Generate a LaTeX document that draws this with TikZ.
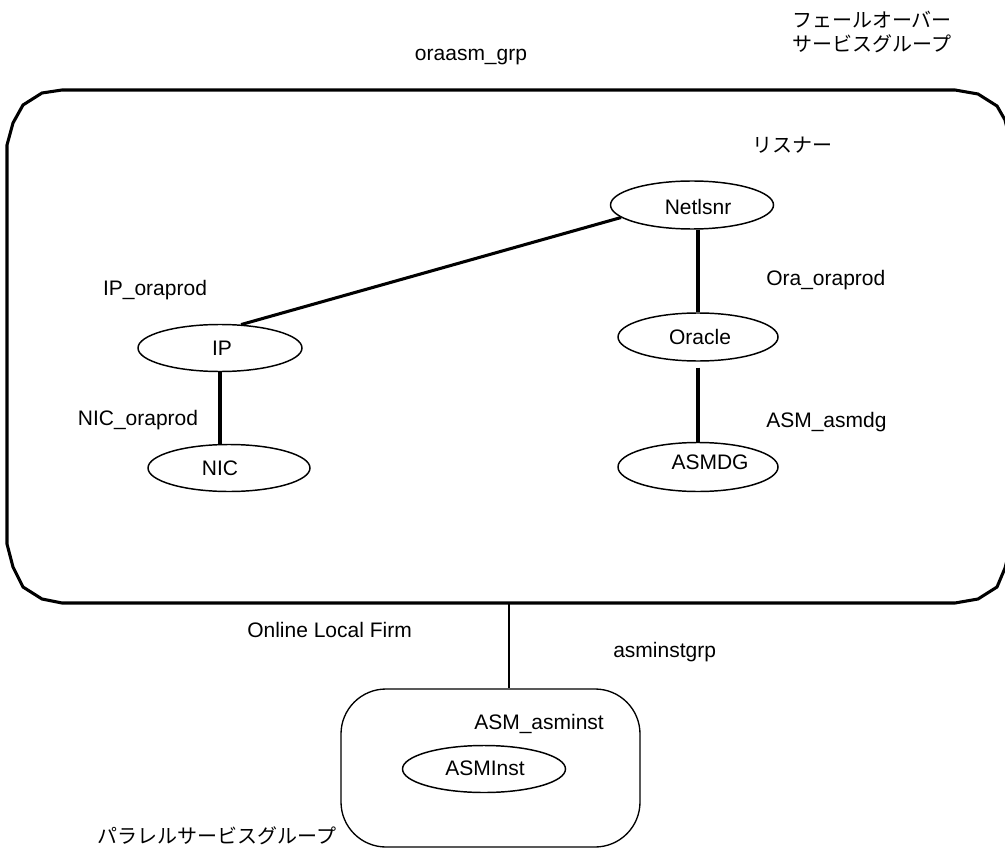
\documentclass[tikz,border=0pt]{standalone}
\usepackage{fontspec}
\setmainfont{Liberation Sans}
\newfontfamily\jp{Noto Sans CJK JP}
\usetikzlibrary{shapes.geometric}
\begin{document}
\begin{tikzpicture}[x=0.75pt,y=-0.75pt,
  lbl/.style={font=\fontsize{15.75}{18}\selectfont, inner sep=0pt},
  jlbl/.style={font=\jp\fontsize{15}{18}\selectfont, inner sep=0pt, align=center},
  res/.style={draw, ellipse, line width=1.1pt, inner sep=0pt},
  link/.style={line width=2.3pt},
  vlink/.style={line width=3pt},
  thinlink/.style={line width=1pt}]
\useasboundingbox (0,0) rectangle (1005,848);
\clip (0,0) rectangle (1005,848);
% failover group box
\draw[line width=2.3pt, line join=round] (62,90) -- (955,90) -- (978,94) -- (997,106) -- (1005,120) -- (1011,145) -- (1011,544) -- (1005,568) -- (997,587) -- (978,599) -- (955,603) -- (62,603) -- (42,599) -- (23,587) -- (13,567) -- (7,544) -- (7,145) -- (13,123) -- (23,105) -- (42,93) -- cycle;
\coordinate (bigbot) at (509,603);
% parallel group box
\node[draw, line width=1pt, rounded corners=33.75pt, minimum width=224.25pt, minimum height=118.5pt, inner sep=0pt] (asmgrp) at (490.5,768) {};
% resources
\node[res, minimum width=122.25pt, minimum height=36pt] (netlsnr) at (692,205) {};
\node[lbl] (netlsnrT) at (698,207) {Netlsnr};
\node[res, minimum width=120pt, minimum height=36pt] (oracle) at (698,337) {};
\node[lbl] (oracleT) at (700,337) {Oracle};
\node[res, minimum width=120pt, minimum height=36.75pt] (asmdg) at (698,467) {};
\node[lbl] (asmdgT) at (710,462) {ASMDG};
\node[res, minimum width=123pt, minimum height=35.25pt] (ip) at (220,348) {};
\node[lbl] (ipT) at (222,348) {IP};
\node[res, minimum width=121.5pt, minimum height=35.25pt] (nic) at (229,468) {};
\node[lbl] (nicT) at (220,468) {NIC};
\node[res, minimum width=122.25pt, minimum height=35.25pt] (asminst) at (484,769) {};
\node[lbl] (asminstT) at (485,768) {ASMInst};
% links
\draw[link] (netlsnr.190) -- (ip.48);
\draw[vlink] (oracle.north |- netlsnr.south) -- (oracle.north);
\draw[vlink, shorten <=4.5pt] (oracle.south) -- (asmdg.north);
\draw[vlink] (ip.south) -- (ip.south |- nic.north);
\draw[thinlink] (bigbot) -- (bigbot |- asmgrp.north);
% labels
\node[jlbl] (fogrp) at (872,32) {フェールオーバー\\サービスグループ};
\node[lbl] (grpname) at (471,57) {oraasm\_grp};
\node[jlbl, anchor=west] (listener) at (752,145) {リスナー};
\node[lbl] (ipname) at (155,290) {IP\_oraprod};
\node[lbl, anchor=west] (oraname) at (766,280) {Ora\_oraprod};
\node[lbl] (nicname) at (138,420) {NIC\_oraprod};
\node[lbl, anchor=west] (dgname) at (766,422) {ASM\_asmdg};
\node[lbl, anchor=west] (linkname) at (247,630) {Online Local Firm};
\node[lbl, anchor=west] (asmgrpname) at (613,652) {asminstgrp};
\node[lbl, anchor=west] (instname) at (474,724) {ASM\_asminst};
\node[jlbl] (pargrp) at (217,836) {パラレルサービスグループ};
\end{tikzpicture}
\end{document}
